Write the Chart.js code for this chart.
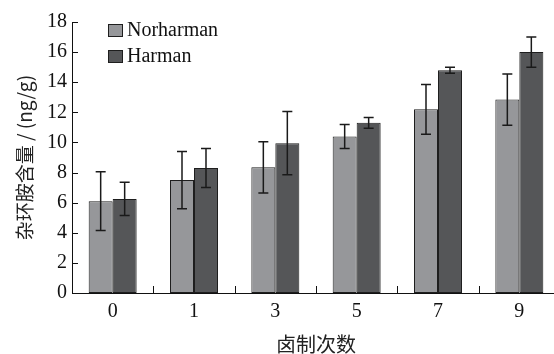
<!DOCTYPE html>
<html>
<head>
<meta charset="utf-8">
<script src="https://cdn.jsdelivr.net/npm/chart.js@4.4.1/dist/chart.umd.min.js"></script>
<style>
    html, body { margin: 0; padding: 0; background: #fff; overflow: hidden; }
    #wrap { width: 560px; height: 354px; }
</style>
</head>
<body>
<div id="wrap"><canvas id="chart"></canvas></div>
<script>
// 卤制次数
const categories = ['0', '1', '3', '5', '7', '9'];

// 杂环胺含量 (ng/g) and error bar half-widths
const norharman = [6.1, 7.5, 8.35, 10.4, 12.2, 12.85];
const norharmanErr = [1.95, 1.9, 1.7, 0.8, 1.65, 1.7];
const harman = [6.25, 8.3, 9.95, 11.3, 14.8, 16.0];
const harmanErr = [1.1, 1.3, 2.1, 0.35, 0.2, 1.0];

const yMin = 0;
const yMax = 18;
const yStep = 2;

const serif = "'Liberation Serif', 'DejaVu Serif', serif";
const cjk = "'Noto Sans CJK SC', sans-serif";

// error bars, inward tick marks and the legend inside the plot
const extras = {
    id: 'extras',
    afterDatasetsDraw: function (chart) {
        const ctx = chart.ctx;
        const xs = chart.scales.x;
        const ys = chart.scales.y;
        const area = chart.chartArea;
        ctx.save();

        // error bars
        ctx.strokeStyle = '#1a1a1a';
        ctx.lineWidth = 1.5;
        chart.data.datasets.forEach(function (ds, i) {
            const meta = chart.getDatasetMeta(i);
            meta.data.forEach(function (bar, j) {
                const hi = ys.getPixelForValue(ds.data[j] + ds.errors[j]);
                const lo = ys.getPixelForValue(ds.data[j] - ds.errors[j]);
                ctx.beginPath();
                ctx.moveTo(bar.x, hi);
                ctx.lineTo(bar.x, lo);
                ctx.moveTo(bar.x - 5, hi);
                ctx.lineTo(bar.x + 5, hi);
                ctx.moveTo(bar.x - 5, lo);
                ctx.lineTo(bar.x + 5, lo);
                ctx.stroke();
            });
        });

        // y ticks pointing inward
        ctx.strokeStyle = '#111';
        ctx.lineWidth = 1;
        ys.ticks.forEach(function (t) {
            const py = Math.round(ys.getPixelForValue(t.value)) + 0.5;
            ctx.beginPath();
            ctx.moveTo(area.left, py);
            ctx.lineTo(area.left + 6, py);
            ctx.stroke();
        });

        // x ticks between groups
        for (let i = 0; i < categories.length - 1; i++) {
            const px = Math.round((xs.getPixelForValue(i) + xs.getPixelForValue(i + 1)) / 2) + 0.5;
            ctx.beginPath();
            ctx.moveTo(px, area.bottom);
            ctx.lineTo(px, area.bottom - 7);
            ctx.stroke();
        }

        // legend
        ctx.font = '20px ' + serif;
        ctx.textBaseline = 'middle';
        ctx.textAlign = 'left';
        chart.data.datasets.forEach(function (ds, i) {
            const bx = area.left + 36;
            const by = area.top + 2 + i * 26;
            ctx.fillStyle = ds.backgroundColor;
            ctx.fillRect(bx, by, 15, 13);
            ctx.strokeStyle = '#1e1e1e';
            ctx.strokeRect(bx + 0.5, by + 0.5, 14, 12);
            ctx.fillStyle = '#111';
            ctx.fillText(ds.label, bx + 19, by + 7);
        });

        ctx.restore();
    }
};

const ctx = document.getElementById('chart').getContext('2d');
const chart = new Chart(ctx, {
    type: 'bar',
    data: {
        labels: categories,
        datasets: [{
            label: 'Norharman',
            data: norharman,
            errors: norharmanErr,
            backgroundColor: '#96979a',
            borderColor: '#1e1e1e',
            borderWidth: 1,
            borderSkipped: false
        }, {
            label: 'Harman',
            data: harman,
            errors: harmanErr,
            backgroundColor: '#555658',
            borderColor: '#1e1e1e',
            borderWidth: 1,
            borderSkipped: false
        }]
    },
    options: {
        responsive: true,
        maintainAspectRatio: false,
        animation: false,
        layout: { padding: { top: 22, right: 0, bottom: 0, left: 0 } },
        categoryPercentage: 0.59,
        barPercentage: 1.0,
        plugins: {
            legend: { display: false },
            tooltip: { enabled: false }
        },
        scales: {
            x: {
                offset: true,
                grid: { display: false, drawTicks: false },
                border: { display: true, color: '#111', width: 1 },
                ticks: { color: '#111', padding: 7, font: { family: serif, size: 20 } },
                title: {
                    display: true,
                    text: '卤制次数',
                    color: '#222',
                    font: { family: cjk, size: 20, lineHeight: 1 },
                    padding: { top: 0, bottom: 0 }
                },
                afterFit: function (s) { s.height = 61; }
            },
            y: {
                min: yMin,
                max: yMax,
                grid: { display: false, drawTicks: false },
                border: { display: true, color: '#111', width: 1 },
                ticks: { stepSize: yStep, color: '#111', padding: 5, font: { family: serif, size: 20 } },
                title: {
                    display: true,
                    text: '杂环胺含量 / (ng/g)',
                    color: '#222',
                    font: { family: cjk, size: 19, lineHeight: 1 },
                    padding: { top: 15, bottom: 0 }
                },
                afterFit: function (s) { s.width = 72; }
            }
        }
    },
    plugins: [extras]
});
</script>
</body>
</html>
